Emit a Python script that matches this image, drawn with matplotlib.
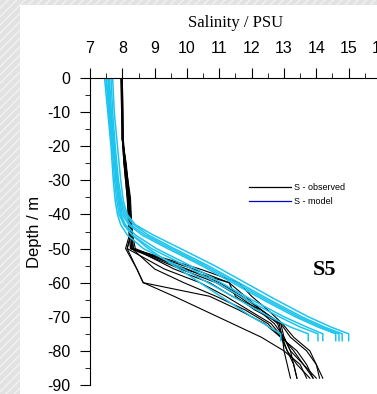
import numpy as np
import matplotlib
matplotlib.use('Agg')
import matplotlib.pyplot as plt
from matplotlib.lines import Line2D
from matplotlib.patches import Rectangle

plt.rcParams['axes.unicode_minus'] = False
plt.rcParams['font.family'] = ['Liberation Sans', 'DejaVu Sans']

# depth levels (m) for the observed profiles
depth_obs = [0, -18, -25, -35, -45, -50, -56, -60, -64, -68, -72, -76, -80, -84, -88]
# observed salinity profiles (PSU)
obs = [
    [8.0, 8.0, 8.05, 8.15, 8.2, 8.25, 9.8, 10.9, 11.6, 12.2, 12.7, 13.0, 13.2, 13.6, 14.0],
    [7.95, 8.0, 8.1, 8.2, 8.3, 8.3, 10.2, 11.3, 11.8, 12.3, 12.8, 12.95, 13.1, 13.4, 13.8],
    [8.0, 8.02, 8.08, 8.18, 8.25, 8.1, 8.45, 8.64, 10.7, 11.6, 12.4, 12.9, 13.1, 13.3, 13.4],
    [8.0, 8.0, 8.1, 8.25, 8.3, 8.15, 9.3, 10.4, 11.2, 11.9, 12.6, 12.95, 13.3, 13.6, 13.9],
    [7.98, 8.0, 8.12, 8.22, 8.3, 8.4, 9.9, 11.3, 11.5, 12.1, 12.9, 13.0, 13.2, 13.3, 13.4],
    [8.0, 8.03, 8.1, 8.2, 8.28, 8.35, 9.6, 10.7, 11.4, 12.3, 12.9, 13.2, 13.7, 14.0, 14.2],
    [8.0, 8.0, 8.05, 8.15, 8.25, 8.3, 9.0, 9.9, 10.9, 11.8, 12.5, 12.9, 13.4, 13.7, 13.9],
    [8.0, 8.01, 8.08, 8.2, 8.3, 8.25, 10.0, 11.0, 11.7, 12.3, 12.85, 12.95, 13.0, 13.1, 13.2],
    [8.0, 8.02, 8.06, 8.18, 8.3, 8.3, 10.4, 11.6, 12.0, 12.5, 12.95, 13.3, 13.8, 14.0, 14.1],
    [8.0, 8.0, 8.1, 8.22, 8.28, 8.15, 8.45, 8.65, 9.6, 10.5, 11.4, 12.3, 13.0, 13.5, 13.7],
]

# depth levels (m) for the model profiles
depth_mod = [0, -10, -20, -30, -36, -40, -43, -46, -50, -55, -60, -65, -70, -73, -75, -77]
# model salinity profiles (PSU)
mod = [
    [7.45, 7.55, 7.65, 7.72, 7.78, 7.85, 7.95, 8.15, 8.65, 9.7, 10.65, 11.6, 12.55, 13.2, 13.75, 13.75],
    [7.5, 7.58, 7.68, 7.76, 7.83, 7.9, 8.05, 8.3, 8.9, 9.95, 10.9, 11.85, 12.85, 13.5, 14.05, 14.05],
    [7.55, 7.62, 7.72, 7.8, 7.87, 7.95, 8.1, 8.4, 9.05, 10.1, 11.05, 12.0, 13.0, 13.7, 14.2, 14.2],
    [7.6, 7.66, 7.75, 7.84, 7.92, 8.0, 8.2, 8.6, 9.4, 10.45, 11.4, 12.35, 13.35, 14.05, 14.6, 14.6],
    [7.5, 7.6, 7.7, 7.82, 7.95, 8.05, 8.25, 8.7, 9.5, 10.55, 11.5, 12.45, 13.45, 14.15, 14.7, 14.7],
    [7.65, 7.7, 7.78, 7.88, 7.98, 8.1, 8.35, 8.8, 9.6, 10.65, 11.6, 12.55, 13.55, 14.25, 14.8, 14.8],
    [7.7, 7.75, 7.85, 7.95, 8.03, 8.15, 8.4, 8.95, 9.8, 10.85, 11.8, 12.75, 13.75, 14.45, 15.0, 15.0],
    [7.58, 7.64, 7.74, 7.85, 7.9, 7.95, 8.05, 8.3, 8.8, 9.6, 10.4, 11.2, 12.0, 12.55, 12.9, 12.9],
]

xticks = np.arange(7, 17, 1)
yticks = np.arange(-90, 10, 10)

fig = plt.figure(figsize=(3.77, 3.94), dpi=100)
fig.patch.set_facecolor('white')
# slide background strips
fig.patches.append(Rectangle((0, 0), 20 / 377, 1, transform=fig.transFigure,
                             facecolor='#e2e2e2', edgecolor='#f2f2f2', hatch='////', lw=0, zorder=-1))
fig.patches.append(Rectangle((0, 1 - 5 / 394), 1, 5 / 394, transform=fig.transFigure,
                             facecolor='#e2e2e2', edgecolor='#f2f2f2', hatch='////', lw=0, zorder=-1))

ax = fig.add_axes([90 / 377, 9 / 394, 291 / 377, 307 / 394])

for s in obs:
    ax.plot(s, depth_obs, color='black', lw=0.8)
for s in mod:
    ax.plot(s, depth_mod, color='#1cc4ee', lw=1.1)

ax.set_xlim(7, 16)
ax.set_ylim(-90, 0)

ax.spines['right'].set_visible(False)
ax.spines['bottom'].set_visible(False)

ax.xaxis.tick_top()
ax.xaxis.set_label_position('top')
ax.set_xticks(xticks)
ax.set_xticks(np.arange(7.5, 16, 1), minor=True)
ax.set_yticks(yticks)
ax.set_yticks(np.arange(-85, 0, 10), minor=True)
ax.tick_params(axis='x', which='major', length=7, pad=9, labelsize=11.5)
ax.tick_params(axis='x', which='minor', length=3.5)
ax.tick_params(axis='y', which='major', length=7, pad=7, labelsize=11.5)
ax.tick_params(axis='y', which='minor', length=3.5)

ax.set_xlabel('Salinity / PSU', family='Liberation Serif', fontsize=12, labelpad=10)
ax.set_ylabel('Depth / m', fontsize=12, labelpad=4)

ax.text(14.24, -56.3, 'S5', family='Liberation Serif', fontweight='bold', fontsize=16,
        ha='center', va='center')

handles = [Line2D([], [], color='black', lw=0.9), Line2D([], [], color='#0000cc', lw=0.9)]
ax.legend(handles, ['S - observed', 'S - model'], loc='upper left',
          bbox_to_anchor=(0.52, 0.685), frameon=False, fontsize=6.5,
          handlelength=4.6, handletextpad=0.3, labelspacing=0.6)

fig.savefig('out.png', dpi=100)
